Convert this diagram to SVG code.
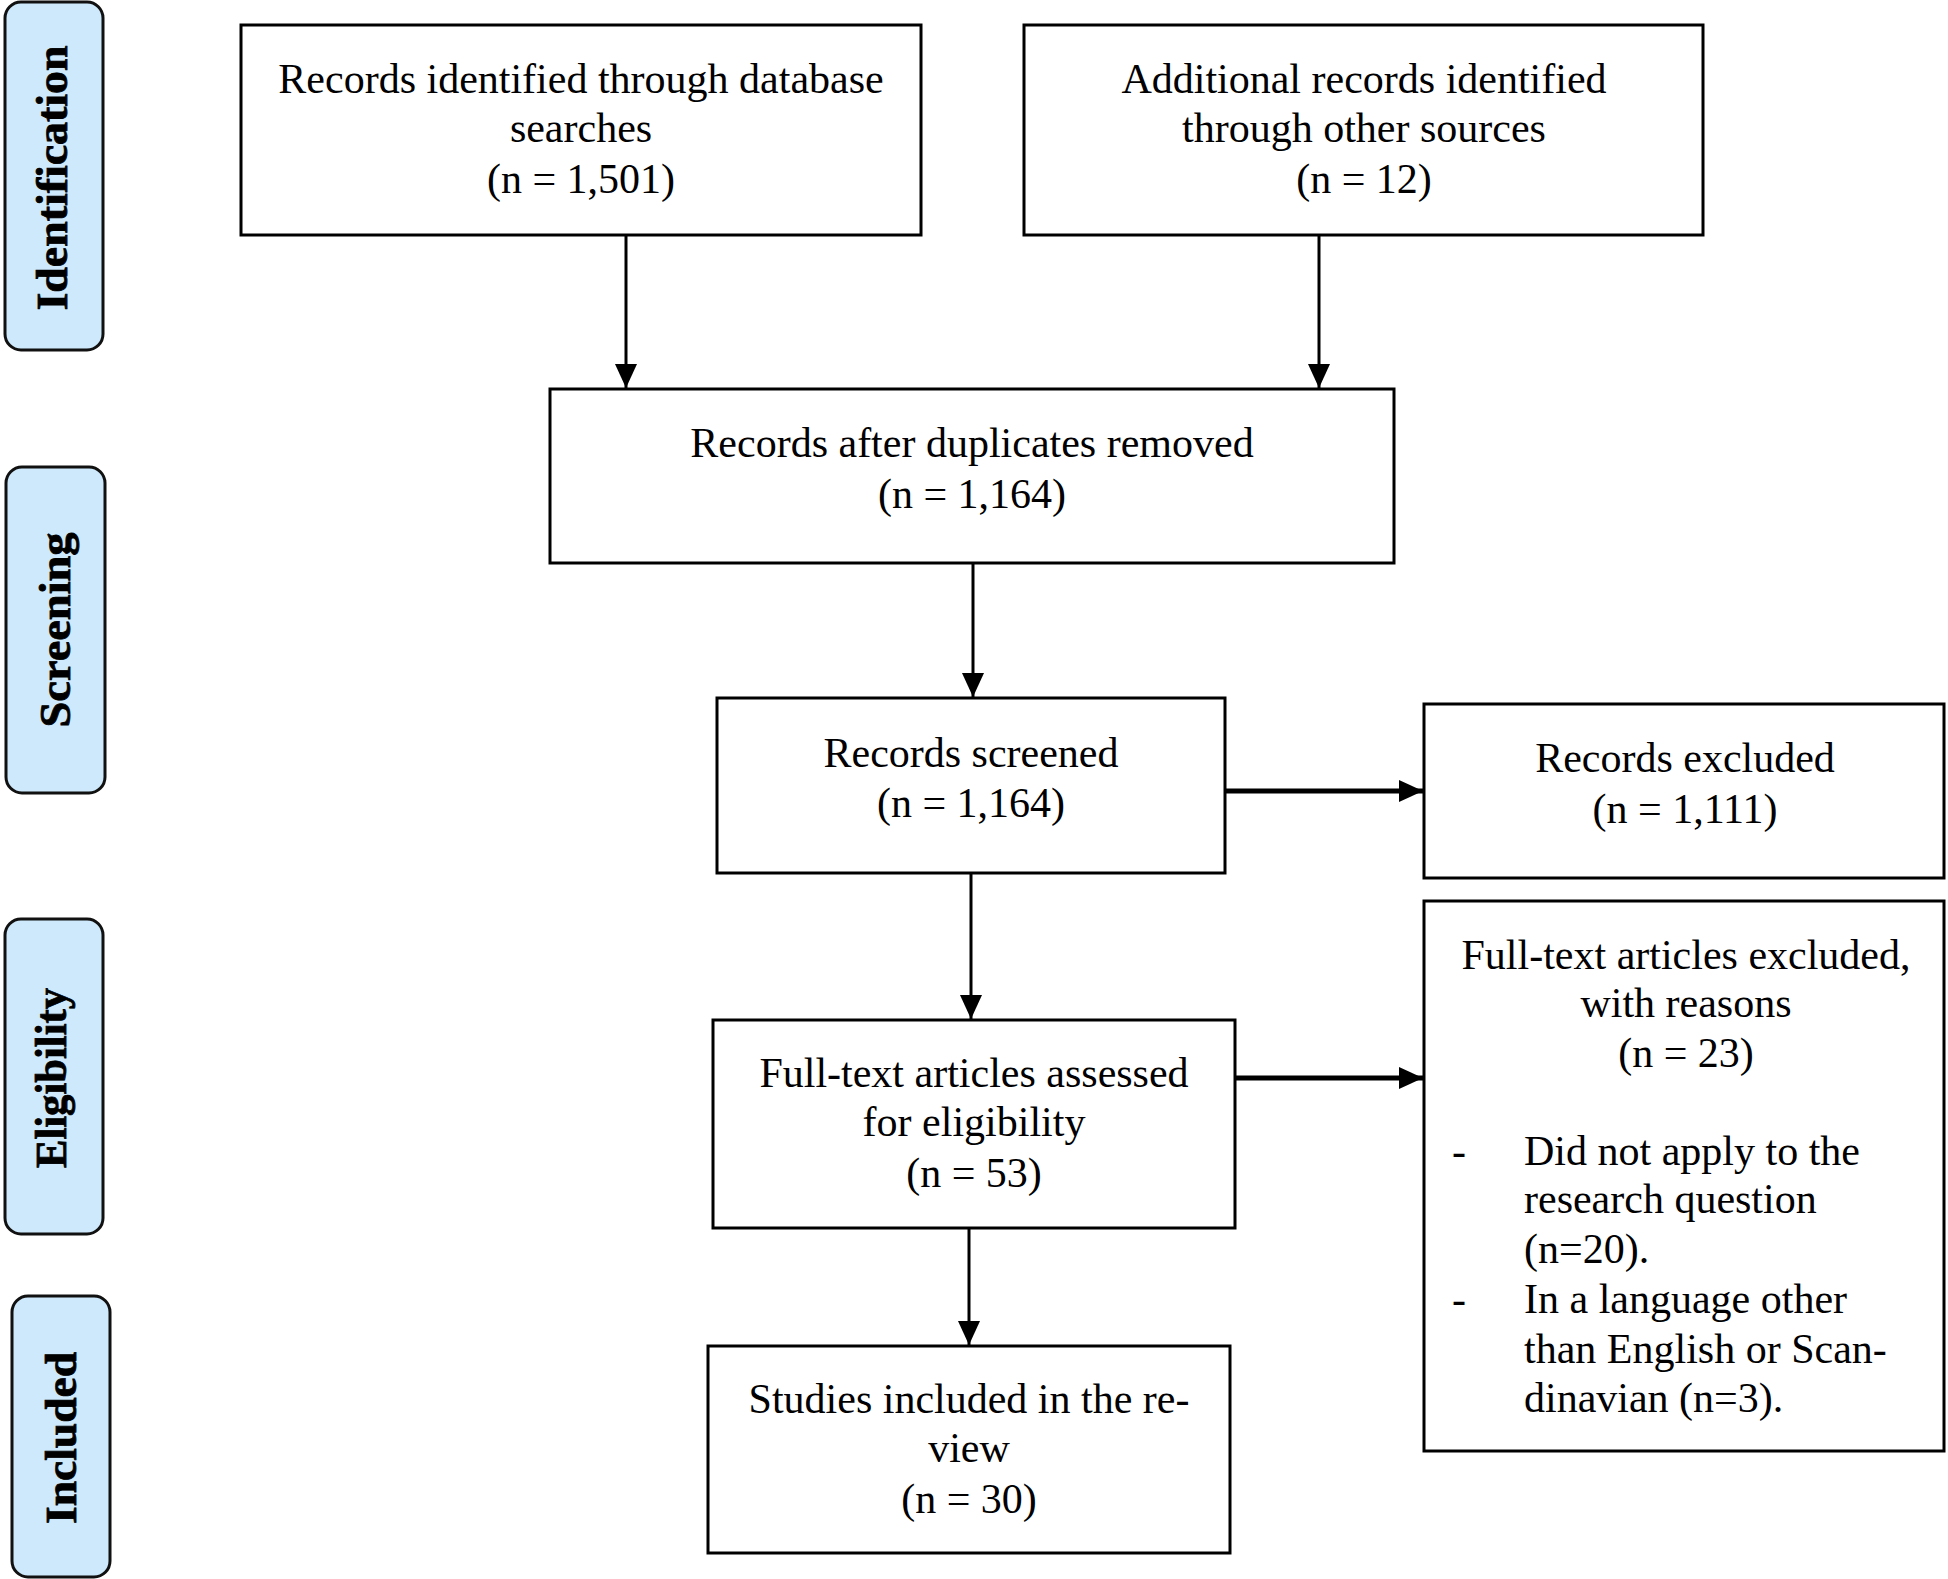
<svg xmlns="http://www.w3.org/2000/svg" width="1948" height="1579" viewBox="0 0 1948 1579">
<style>
.box{fill:#ffffff;stroke:#000;stroke-width:3}
.side{fill:#cde9fb;stroke:#111;stroke-width:3}
.t{font-family:"Liberation Serif","Times New Roman",serif;font-size:42px;fill:#000;text-anchor:middle}
.tl{font-family:"Liberation Serif","Times New Roman",serif;font-size:42px;fill:#000}
.st{font-family:"Liberation Serif","Times New Roman",serif;font-size:45px;font-weight:bold;fill:#000;stroke:#000;stroke-width:0.8;text-anchor:middle}
.v{stroke:#000;stroke-width:3;fill:none}
.h{stroke:#000;stroke-width:5;fill:none}
</style>
<defs>
<marker id="ah" markerUnits="userSpaceOnUse" markerWidth="24" markerHeight="22" refX="24" refY="11" orient="auto">
<path d="M0,0 L24,11 L0,22 Z" fill="#000"/>
</marker>
</defs>
<rect width="1948" height="1579" fill="#ffffff"/>

<g id="side-identification">
<rect class="side" x="5" y="2" width="98" height="348" rx="16" ry="16"/>
<text class="st" transform="translate(67,178) rotate(-90)" textLength="265" lengthAdjust="spacingAndGlyphs">Identification</text>
</g>
<g id="side-screening">
<rect class="side" x="6" y="467" width="99" height="326" rx="16" ry="16"/>
<text class="st" transform="translate(70,630) rotate(-90)" textLength="195" lengthAdjust="spacingAndGlyphs">Screening</text>
</g>
<g id="side-eligibility">
<rect class="side" x="5" y="919" width="98" height="315" rx="16" ry="16"/>
<text class="st" transform="translate(66,1078) rotate(-90)" textLength="180" lengthAdjust="spacingAndGlyphs">Eligibility</text>
</g>
<g id="side-included">
<rect class="side" x="12" y="1296" width="98" height="281" rx="16" ry="16"/>
<text class="st" transform="translate(76,1438) rotate(-90)" textLength="172" lengthAdjust="spacingAndGlyphs">Included</text>
</g>

<g id="connectors">
<line class="v" x1="626" y1="235" x2="626" y2="388" marker-end="url(#ah)"/>
<line class="v" x1="1319" y1="235" x2="1319" y2="388" marker-end="url(#ah)"/>
<line class="v" x1="973" y1="563" x2="973" y2="697" marker-end="url(#ah)"/>
<line class="v" x1="971" y1="873" x2="971" y2="1019" marker-end="url(#ah)"/>
<line class="v" x1="969" y1="1228" x2="969" y2="1345" marker-end="url(#ah)"/>
<line class="h" x1="1225" y1="791" x2="1423" y2="791" marker-end="url(#ah)"/>
<line class="h" x1="1235" y1="1078" x2="1423" y2="1078" marker-end="url(#ah)"/>
</g>

<g id="node-db">
<rect class="box" x="241" y="25" width="680" height="210"/>
<text class="t" x="581" y="93">Records identified through database</text>
<text class="t" x="581" y="142">searches</text>
<text class="t" x="581" y="193">(n = 1,501)</text>
</g>
<g id="node-other">
<rect class="box" x="1024" y="25" width="679" height="210"/>
<text class="t" x="1364" y="93">Additional records identified</text>
<text class="t" x="1364" y="142">through other sources</text>
<text class="t" x="1364" y="193">(n = 12)</text>
</g>
<g id="node-dedup">
<rect class="box" x="550" y="389" width="844" height="174"/>
<text class="t" x="972" y="457">Records after duplicates removed</text>
<text class="t" x="972" y="508">(n = 1,164)</text>
</g>
<g id="node-screened">
<rect class="box" x="717" y="698" width="508" height="175"/>
<text class="t" x="971" y="767">Records screened</text>
<text class="t" x="971" y="817">(n = 1,164)</text>
</g>
<g id="node-excluded">
<rect class="box" x="1424" y="704" width="520" height="174"/>
<text class="t" x="1685" y="772">Records excluded</text>
<text class="t" x="1685" y="823">(n = 1,111)</text>
</g>
<g id="node-fulltext">
<rect class="box" x="713" y="1020" width="522" height="208"/>
<text class="t" x="974" y="1087">Full-text articles assessed</text>
<text class="t" x="974" y="1136">for eligibility</text>
<text class="t" x="974" y="1187">(n = 53)</text>
</g>
<g id="node-ft-excluded">
<rect class="box" x="1424" y="901" width="520" height="550"/>
<text class="t" x="1686" y="969">Full-text articles excluded,</text>
<text class="t" x="1686" y="1017">with reasons</text>
<text class="t" x="1686" y="1067">(n = 23)</text>
<text class="tl" x="1452" y="1165">-</text>
<text class="tl" x="1524" y="1165">Did not apply to the</text>
<text class="tl" x="1524" y="1213">research question</text>
<text class="tl" x="1524" y="1263">(n=20).</text>
<text class="tl" x="1452" y="1313">-</text>
<text class="tl" x="1524" y="1313">In a language other</text>
<text class="tl" x="1524" y="1363">than English or Scan-</text>
<text class="tl" x="1524" y="1412">dinavian (n=3).</text>
</g>
<g id="node-included">
<rect class="box" x="708" y="1346" width="522" height="207"/>
<text class="t" x="969" y="1413">Studies included in the re-</text>
<text class="t" x="969" y="1462">view</text>
<text class="t" x="969" y="1513">(n = 30)</text>
</g>
</svg>
